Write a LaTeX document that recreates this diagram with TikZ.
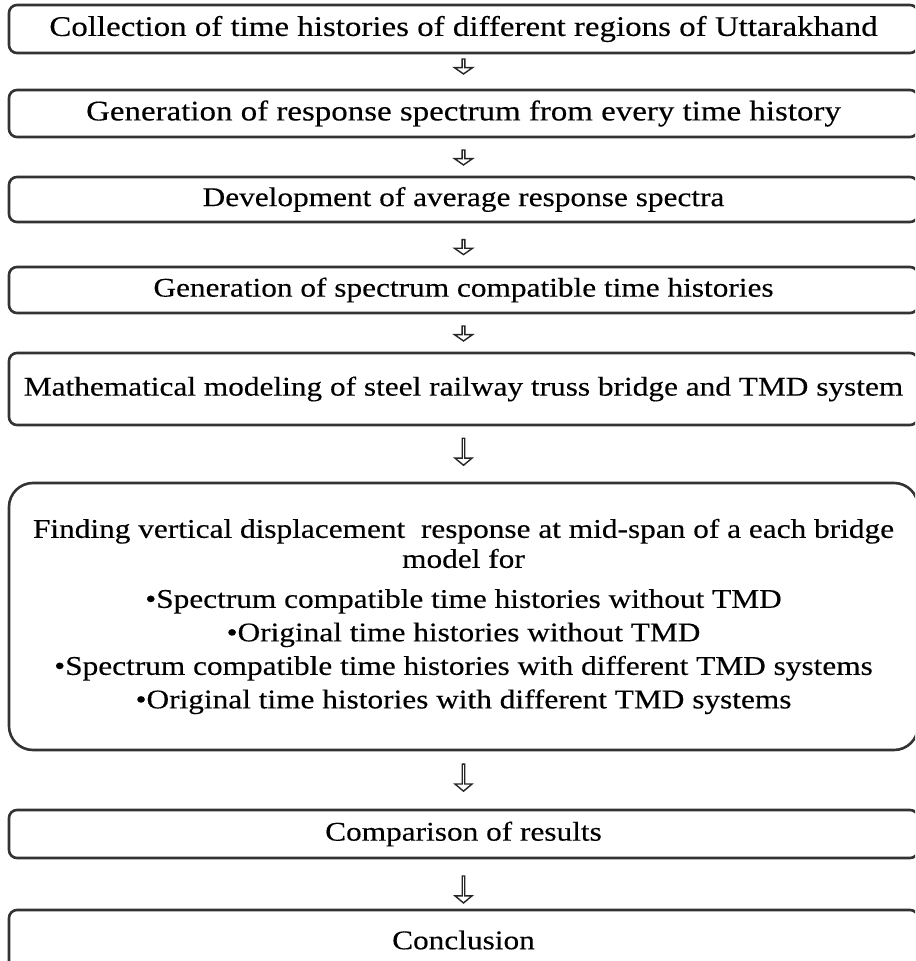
\documentclass[tikz,border=0pt]{standalone}
\usepackage{fontspec}
\setmainfont[FakeStretch=1.16,FakeBold=0.3]{Liberation Serif}
\usetikzlibrary{positioning,shapes.arrows}
\tikzset{box/.style={draw=black!80,line width=1.3pt,rounded corners=4pt,minimum width=454.5pt,align=center,font=\fontsize{13.5}{15}\selectfont}}
\tikzset{downarrow/.style={single arrow,shape border rotate=270,draw=black!85,fill=white,line width=0.7pt,inner sep=0pt,minimum height=7.5pt,minimum width=9pt,single arrow head extend=2pt,single arrow tip angle=110}}
\tikzset{longarrow/.style={downarrow,minimum height=13.5pt,minimum width=8.5pt,single arrow tip angle=100}}

\begin{document}
\begin{tikzpicture}[x=0.5pt,y=-0.5pt] % 1 unit = 1 px of the figure
        \useasboundingbox (0,0) rectangle (915,961);
        \clip (0,0) rectangle (915,961);
        \node[box,minimum height=24pt,font=\fontsize{14.2}{16}\selectfont] (collect) at (463.5,29) {Collection of time histories of different regions of Uttarakhand};
        \node[box,minimum height=23.5pt,font=\fontsize{14.2}{16}\selectfont] (respspec) at (463.5,113.5) {Generation of response spectrum from every time history};
        \node[box,minimum height=22.5pt] (avgspec) at (463.5,199.5) {Development of average response spectra};
        \node[box,minimum height=23pt] (compat) at (463.5,290) {Generation of spectrum compatible time histories};
        \node[box,minimum height=36pt] (model) at (463.5,389) {Mathematical modeling of steel railway truss bridge and TMD system};
        \node[box,rounded corners=12pt,minimum height=133.5pt] (finding) at (463.5,616.5) {Finding vertical displacement\ \ response at mid-span of a each bridge\\ model for\\[5pt]
            \textbullet Spectrum compatible time histories without TMD\\[1.75pt]
            \textbullet Original time histories without TMD\\[1.75pt]
            \textbullet Spectrum compatible time histories with different TMD systems\\[1.75pt]
            \textbullet Original time histories with different TMD systems};
        \node[box,minimum height=24pt] (compare) at (463.5,834) {Comparison of results};
        \node[box,minimum height=30pt] (concl) at (463.5,940) {Conclusion};
        % hollow arrows between the steps
        \path (collect) -- node[downarrow,pos=0.34] (a1) {} (respspec);
        \path (respspec) -- node[downarrow,pos=0.5] (a2) {} (avgspec);
        \path (avgspec) -- node[downarrow,pos=0.55] (a3) {} (compat);
        \path (compat) -- node[downarrow,pos=0.5] (a4) {} (model);
        \path (model) -- node[longarrow,pos=0.45] (a5) {} (finding);
        \path (finding) -- node[longarrow,pos=0.45] (a6) {} (compare);
        \path (compare) -- node[longarrow,pos=0.6] (a7) {} (concl);
\end{tikzpicture}
\end{document}
